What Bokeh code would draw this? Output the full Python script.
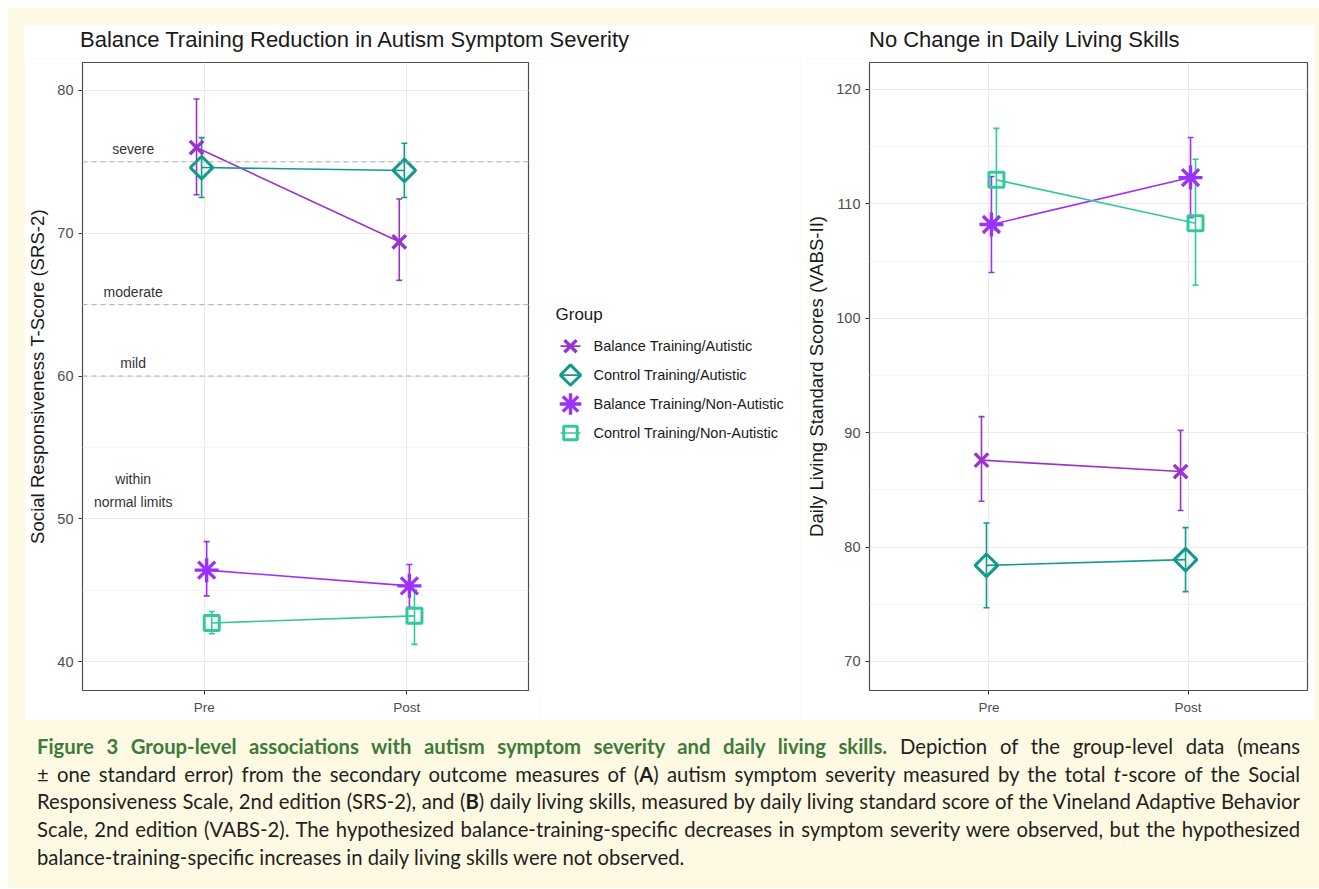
import numpy as np
from bokeh.plotting import figure
from bokeh.models import (ColumnDataSource, Range1d, FixedTicker, SingleIntervalTicker,
                          Whisker, TeeHead, Span, Div)
from bokeh.layouts import column, row
from bokeh.embed import file_html
from bokeh.resources import INLINE
from bokeh.core.properties import value

# ---------------- data ----------------
timepoints = ["Pre", "Post"]
groups = ["Balance Training/Autistic", "Control Training/Autistic",
          "Balance Training/Non-Autistic", "Control Training/Non-Autistic"]

# SRS-2 total T-score (mean, mean-SE, mean+SE) for Pre, Post
srs_mean = [[76.0, 69.4], [74.6, 74.4], [46.4, 45.3], [42.7, 43.2]]
srs_lower = [[72.7, 66.7], [72.5, 72.5], [44.6, 43.8], [41.95, 41.2]]
srs_upper = [[79.4, 72.4], [76.7, 76.3], [48.4, 46.8], [43.5, 45.0]]

# VABS-II daily living standard scores
vabs_mean = [[87.6, 86.6], [78.4, 78.9], [108.2, 112.3], [112.1, 108.3]]
vabs_lower = [[84.0, 83.2], [74.7, 76.1], [104.0, 108.8], [107.7, 102.9]]
vabs_upper = [[91.4, 90.2], [82.1, 81.7], [112.4, 115.8], [116.6, 113.9]]

severity_names = ["severe", "moderate", "mild"]
severity_cutoffs = [75, 65, 60]
normal_label = "within\nnormal limits"
normal_label_value = 52.0

titles = ["Balance Training Reduction in Autism Symptom Severity",
          "No Change in Daily Living Skills"]
ylabels = ["Social Responsiveness T-Score (SRS-2)",
           "Daily Living Standard Scores (VABS-II)"]
legend_title = "Group"

caption_lines = [
    '<span style="color:#3C7B3A; font-weight:bold;">Figure 3 Group-level associations with autism '
    'symptom severity and daily living skills.</span> Depiction of the group-level data (means',
    '&plusmn; one standard error) from the secondary outcome measures of (<b>A</b>) autism symptom '
    'severity measured by the total <i>t</i>-score of the Social',
    'Responsiveness Scale, 2nd edition (SRS-2), and (<b>B</b>) daily living skills, measured by daily '
    'living standard score of the Vineland Adaptive Behavior',
    'Scale, 2nd edition (VABS-2). The hypothesized balance-training-specific decreases in symptom '
    'severity were observed, but the hypothesized',
    'balance-training-specific increases in daily living skills were not observed.',
]

# ---------------- style ----------------
FONT = "Liberation Sans"
CREAM = "#FEF9E3"
colors = ["#9A32CD", "#139A8E", "#9B30FF", "#33C99A"]
marker_styles = [
    dict(marker="x", size=19, angle=0.0, line_width=3.4),
    dict(marker="square", size=16, angle=np.pi / 4, line_width=3.0),
    dict(marker="asterisk", size=24, angle=0.0, line_width=3.4),
    dict(marker="square", size=15, angle=0.0, line_width=3.0),
]
dodge = [-0.0375, -0.0125, 0.0125, 0.0375]
FIG_H = 662
LEFT_W, LEG_W, RIGHT_W = 516, 260, 515


def make_panel(ylabel, means, lowers, uppers, yr, width, mb_left, mb_right):
    p = figure(width=width, height=FIG_H, x_range=Range1d(0.4, 2.6), y_range=Range1d(*yr),
               output_backend="svg", toolbar_location=None,
               min_border_left=mb_left, min_border_right=mb_right,
               min_border_top=4, min_border_bottom=30,
               background_fill_color="white", border_fill_color="white")
    tick_pos = [i + 1 for i in range(len(timepoints))]
    p.xaxis.ticker = FixedTicker(ticks=tick_pos)
    p.xgrid.ticker = FixedTicker(ticks=tick_pos)
    p.xaxis.major_label_overrides = {t: lab for t, lab in zip(tick_pos, timepoints)}
    yt = SingleIntervalTicker(interval=10, num_minor_ticks=2)
    p.yaxis.ticker = yt
    p.ygrid.ticker = yt
    p.grid.grid_line_color = "#EBEBEB"
    p.grid.grid_line_width = 1
    p.ygrid.minor_grid_line_color = "#F3F3F3"
    p.ygrid.minor_grid_line_width = 1
    p.axis.axis_line_color = None
    p.axis.minor_tick_line_color = None
    p.axis.major_tick_line_color = "#333333"
    p.axis.major_tick_out = 4
    p.axis.major_tick_in = 0
    p.axis.major_label_text_font = FONT
    p.axis.major_label_text_color = "#4D4D4D"
    p.yaxis.major_label_text_font_size = "14.5px"
    p.xaxis.major_label_text_font_size = "13.5px"
    p.yaxis.axis_label = ylabel
    p.yaxis.axis_label_text_font = FONT
    p.yaxis.axis_label_text_font_size = "18.6px"
    p.yaxis.axis_label_text_font_style = "normal"
    p.yaxis.axis_label_text_color = "#1A1A1A"
    p.yaxis.axis_label_standoff = 6
    p.outline_line_color = "#4D4D4D"
    p.outline_line_width = 1.2

    for i, g in enumerate(groups):
        xs = [t + dodge[i] for t in tick_pos]
        src = ColumnDataSource(dict(x=xs, y=means[i], lower=lowers[i], upper=uppers[i]))
        c = colors[i]
        p.line("x", "y", source=src, line_color=c, line_width=1.6)
        wk = Whisker(base="x", upper="upper", lower="lower", source=src,
                     line_color=c, line_width=1.6,
                     upper_head=TeeHead(size=6, line_color=c, line_width=1.6),
                     lower_head=TeeHead(size=6, line_color=c, line_width=1.6))
        p.add_layout(wk)
        ms = marker_styles[i]
        p.scatter("x", "y", source=src, marker=ms["marker"], size=ms["size"],
                  angle=ms["angle"], line_color=c, line_width=ms["line_width"],
                  fill_color=None)
    return p


left = make_panel(ylabels[0], srs_mean, srs_lower, srs_upper, (37.97, 81.96), LEFT_W, 56, 12)
right = make_panel(ylabels[1], vabs_mean, vabs_lower, vabs_upper, (67.46, 122.36), RIGHT_W, 69, 8)

# severity cut-offs and labels on the SRS panel
for c in severity_cutoffs:
    left.add_layout(Span(location=c, dimension="width", line_color="#ADADAD",
                         line_dash="5 4", line_width=1))
label_x = 0.65
lab_src = ColumnDataSource(dict(
    x=[label_x] * (len(severity_names) + 1),
    y=[c + 0.9 for c in severity_cutoffs] + [normal_label_value],
    text=severity_names + [normal_label]))
left.text("x", "y", text="text", source=lab_src, text_align="center",
          text_baseline="middle", text_font=value(FONT), text_font_size="14px",
          text_color="#333333", text_line_height=1.45)

# ---------------- legend panel (one key row per group) ----------------
leg = figure(width=LEG_W, height=FIG_H, x_range=Range1d(0, LEG_W), y_range=Range1d(FIG_H, 0),
             output_backend="svg", toolbar_location=None, min_border=0,
             x_axis_location=None, y_axis_location=None,
             background_fill_color="white", border_fill_color="white")
leg.grid.visible = False
leg.outline_line_color = None
row_y0, row_step = 299, 30.5
key_x, key_half, text_x = 30, 10, 53
for i, g in enumerate(groups):
    yk = row_y0 + i * row_step
    ksrc = ColumnDataSource(dict(x=[key_x], y=[yk], x0=[key_x - key_half],
                                 x1=[key_x + key_half], label=[g]))
    c = colors[i]
    ms = marker_styles[i]
    leg.segment("x0", "y", "x1", "y", source=ksrc, line_color=c, line_width=1.6)
    leg.scatter("x", "y", source=ksrc, marker=ms["marker"], size=ms["size"] * 0.9,
                angle=ms["angle"], line_color=c, line_width=ms["line_width"], fill_color=None)
    leg.text(x=text_x, y="y", text="label", source=ksrc, text_baseline="middle",
             text_align="left", text_font=value(FONT), text_font_size="14.5px",
             text_color="#1A1A1A")
leg.text(x=[15], y=[row_y0 - 33], text=[legend_title], text_baseline="middle",
         text_align="left", text_font=value(FONT), text_font_size="17px", text_color="#1A1A1A")

# ---------------- panel titles (HTML, may run across panel boundaries) ----------------
title_html = (
    '<div style="position:relative; width:%dpx; height:33px; background:white; '
    'font-family:\'Liberation Sans\', Arial, sans-serif; font-size:22px; line-height:26px; '
    'color:#1A1A1A; white-space:nowrap;">'
    '<span style="position:absolute; left:56px; top:2px;">%s</span>'
    '<span style="position:absolute; left:845px; top:2px;">%s</span></div>'
    % (LEFT_W + LEG_W + RIGHT_W, titles[0], titles[1]))
title_div = Div(text=title_html, width=LEFT_W + LEG_W + RIGHT_W, height=33, margin=0)

# ---------------- caption ----------------
line_divs = []
for k, ln in enumerate(caption_lines):
    just = "justify" if k < len(caption_lines) - 1 else "left"
    line_divs.append(
        f'<div style="width:1263px; white-space:nowrap; text-align:{just}; '
        f'text-align-last:{just};">{ln}</div>')
caption_html = (
    '<div style="font-family:Lato, sans-serif; font-size:20.3px; line-height:27.7px; '
    'color:#231F20; padding:13px 0 0 29px;">' + "".join(line_divs) + '</div>')

INNER_W = 1311
caption = Div(text=caption_html, width=INNER_W, height=168, margin=0)

inner = column(
    Div(text="", width=INNER_W, height=17, margin=0),
    row(Div(text="", width=16, height=33, margin=0), title_div),
    row(Div(text="", width=16, height=FIG_H, margin=0), left, leg, right),
    caption,
    styles={"background-color": CREAM},
)
layout = column(
    Div(text="", width=INNER_W + 8, height=8, margin=0),
    row(Div(text="", width=8, height=10, margin=0), inner),
)

open("out.html", "w").write(file_html(layout, INLINE))
